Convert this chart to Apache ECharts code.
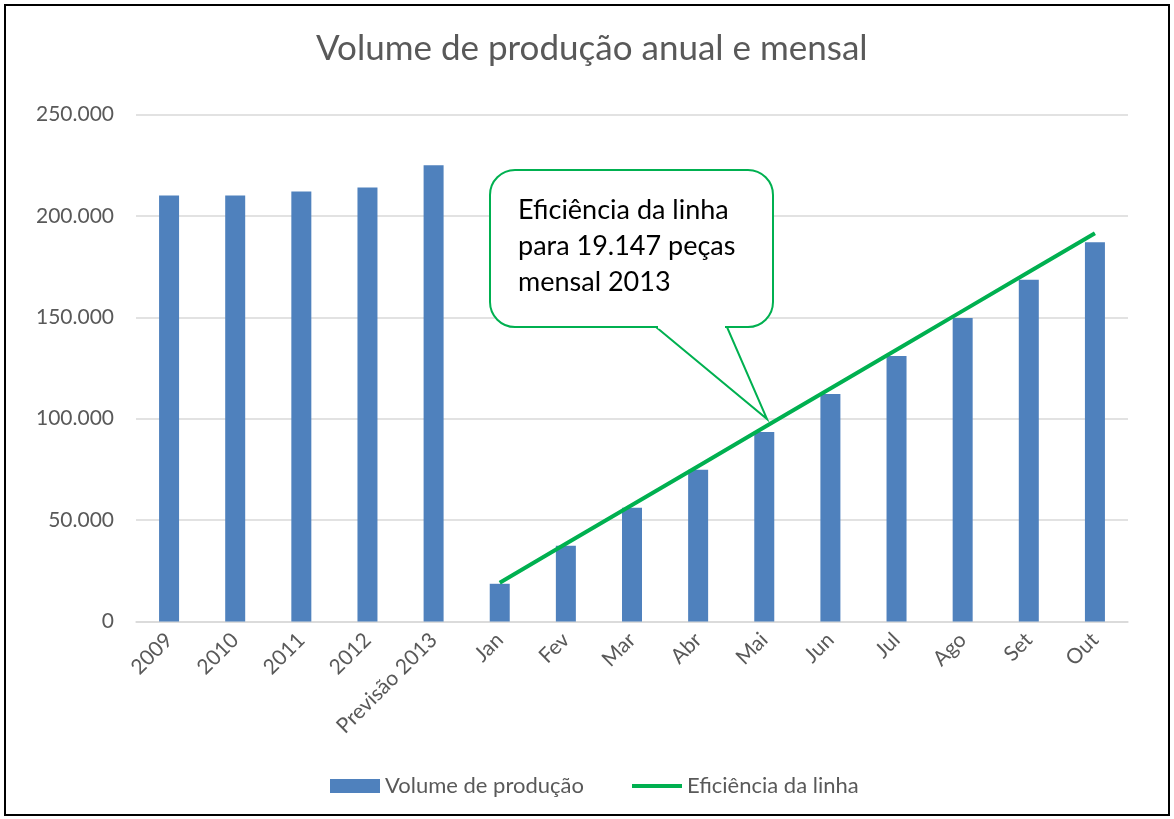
<!DOCTYPE html>
<html>
<head>
<meta charset="UTF-8"/>
<title>Volume de produção</title>
<script src="https://cdn.jsdelivr.net/npm/echarts@6/dist/echarts.min.js"></script>
<style>
html, body { margin:0; padding:0; background:#fff; }
#placeholder { width:1174px; height:819px; }
</style>
</head>
<body>
<div id="placeholder"></div>
<script type="text/javascript">
// categorias e valores
var categorias = ['2009', '2010', '2011', '2012', 'Previsão 2013', 'Jan', 'Fev', 'Mar', 'Abr', 'Mai', 'Jun', 'Jul', 'Ago', 'Set', 'Out'];
var volume = [210000, 210000, 212000, 214000, 225000, 18600, 37400, 56100, 74800, 93500, 112200, 130900, 149600, 168500, 187000];
var eficiencia = ['-', '-', '-', '-', '-', 19147, 38294, 57441, 76588, 95735, 114882, 134029, 153176, 172323, 191470];
var yTicks = [0, 50000, 100000, 150000, 200000, 250000];

var fonte = 'Lato, "Open Sans", sans-serif';
var cinza = '#595959';
var verde = '#00b050';

function fmt(v) {
    if (v === 0) return '0';
    return String(v).replace(/\B(?=(\d{3})+(?!\d))/g, '.');
}

var myChart = echarts.init(document.getElementById('placeholder'));
var option = {
    animation: false,
    textStyle: { fontFamily: fonte },
    title: {
        text: 'Volume de produção anual e mensal',
        left: 311,
        top: 26,
        textStyle: { color: cinza, fontSize: 35, fontWeight: 'normal', fontFamily: fonte }
    },
    // duas legendas para controlar a altura de cada ícone
    legend: [
        {
            top: 770,
            left: 325,
            itemWidth: 50,
            itemHeight: 14,
            icon: 'rect',
            textStyle: { color: cinza, fontSize: 22, fontFamily: fonte },
            data: ['Volume de produção']
        },
        {
            top: 770,
            left: 627,
            itemWidth: 50,
            itemHeight: 4,
            icon: 'rect',
            textStyle: { color: cinza, fontSize: 22, fontFamily: fonte },
            data: ['Eficiência da linha']
        }
    ],
    grid: {
        left: 136,
        right: 46,
        top: 114.5,
        bottom: 197.5,
        containLabel: false
    },
    xAxis: {
        type: 'category',
        data: categorias,
        axisTick: { show: false },
        axisLine: { lineStyle: { color: '#d9d9d9', width: 1.5 } },
        axisLabel: { rotate: 45, color: cinza, fontSize: 21, margin: 15, interval: 0, fontFamily: fonte }
    },
    yAxis: {
        type: 'value',
        min: yTicks[0],
        max: yTicks[yTicks.length - 1],
        interval: 50000,
        axisLine: { show: false },
        axisTick: { show: false },
        splitLine: { lineStyle: { color: '#d9d9d9', width: 1.5 } },
        axisLabel: { color: cinza, fontSize: 21, margin: 22, formatter: fmt, fontFamily: fonte }
    },
    series: [
        {
            name: 'Volume de produção',
            type: 'bar',
            barWidth: 20,
            data: volume,
            itemStyle: { color: '#4f81bd' }
        },
        {
            name: 'Eficiência da linha',
            type: 'line',
            data: eficiencia,
            symbol: 'none',
            showSymbol: false,
            lineStyle: { color: verde, width: 4 },
            itemStyle: { color: verde }
        }
    ],
    graphic: [
        {
            type: 'rect',
            shape: { x: 5, y: 5, width: 1164, height: 810 },
            style: { fill: 'none', stroke: '#000', lineWidth: 2 },
            silent: true
        },
        // balão de texto
        {
            type: 'rect',
            shape: { x: 490, y: 170, width: 283, height: 157, r: 25 },
            style: { fill: '#fff', stroke: verde, lineWidth: 2 },
            z: 100
        },
        {
            type: 'polygon',
            shape: { points: [[656, 327], [767, 419], [727, 327]] },
            style: { fill: '#fff', stroke: verde, lineWidth: 2 },
            z: 101
        },
        {
            type: 'line',
            shape: { x1: 658, y1: 327, x2: 725, y2: 327 },
            style: { stroke: '#fff', lineWidth: 3 },
            z: 102
        },
        {
            type: 'text',
            left: 518,
            top: 192,
            z: 103,
            style: {
                text: 'Eficiência da linha\npara 19.147 peças\nmensal 2013',
                font: '27px ' + fonte,
                lineHeight: 36,
                fill: '#000'
            }
        }
    ]
};
myChart.setOption(option, true);
</script>
</body>
</html>
